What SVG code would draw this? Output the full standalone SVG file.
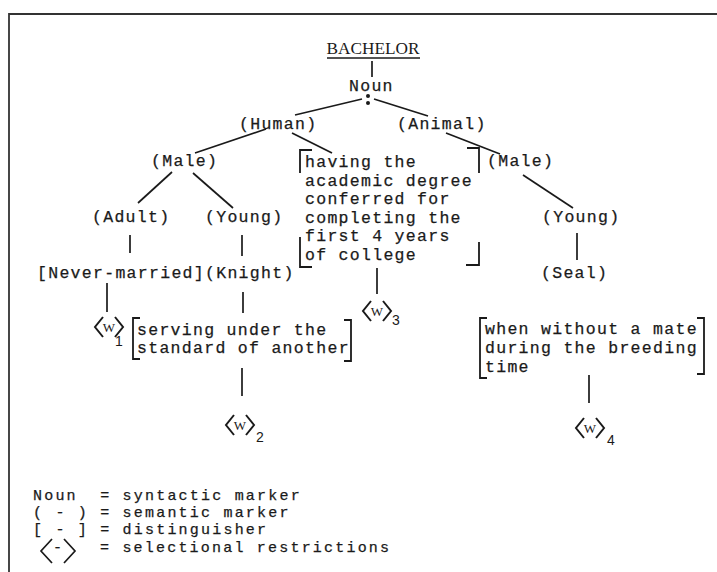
<svg xmlns="http://www.w3.org/2000/svg" width="717" height="572" viewBox="0 0 717 572">
  <defs>
    <style>
      .t { font-family: "Liberation Mono", "DejaVu Sans Mono", monospace; font-size: 16.5px; letter-spacing: 1.3px; fill: #1a1a1a; stroke: #1a1a1a; stroke-width: 0.25; white-space: pre; }
      .k { font-size: 15px; letter-spacing: 2.2px; }
      .w { font-family: "Liberation Serif", serif; font-size: 13px; fill: #1a1a1a; text-anchor: middle; }
      .sub { font-family: "Liberation Sans", sans-serif; font-size: 14px; fill: #1a1a1a; }
      .hd { font-family: "Liberation Serif", serif; font-size: 17px; fill: #1a1a1a; text-anchor: middle; }
      .ln { stroke: #1a1a1a; stroke-width: 1.7; fill: none; }
      .br { stroke: #1a1a1a; stroke-width: 1.8; fill: none; }
      .frame { stroke: #333; stroke-width: 1.8; fill: none; }
    </style>
    <!-- angle-bracket pair for selectional restrictions -->
    <path id="chev" d="M-6,-10 L-14,0 L-6,10 M6,-10 L14,0 L6,10" stroke="#1a1a1a" stroke-width="2" fill="none"/>
  </defs>

  <rect width="717" height="572" fill="#ffffff"/>

  <!-- frame -->
  <path class="frame" d="M9,572 L9,14 L717,14"/>

  <!-- connectors -->
  <g id="connectors">
    <line class="ln" x1="372" y1="61" x2="372" y2="77"/>
    <line class="ln" x1="362" y1="99" x2="295" y2="115"/>
    <line class="ln" x1="374" y1="99" x2="428" y2="116"/>
    <line class="ln" x1="266" y1="129" x2="195" y2="153"/>
    <line class="ln" x1="292" y1="133" x2="332" y2="153"/>
    <line class="ln" x1="446" y1="133" x2="500" y2="154"/>
    <line class="ln" x1="172" y1="172" x2="138" y2="203"/>
    <line class="ln" x1="193" y1="173" x2="233" y2="208"/>
    <line class="ln" x1="523" y1="175" x2="573" y2="208"/>
    <line class="ln" x1="130" y1="235" x2="130" y2="253"/>
    <line class="ln" x1="242" y1="235" x2="242" y2="256"/>
    <line class="ln" x1="577" y1="233" x2="577" y2="260"/>
    <line class="ln" x1="107" y1="283" x2="107" y2="312"/>
    <line class="ln" x1="243" y1="292" x2="243" y2="313"/>
    <line class="ln" x1="377" y1="268" x2="377" y2="294"/>
    <line class="ln" x1="242" y1="368" x2="242" y2="396"/>
    <line class="ln" x1="589" y1="375" x2="589" y2="403"/>
  </g>

  <!-- lexical item -->
  <g id="bachelor">
    <text class="hd" x="373" y="54" textLength="93" lengthAdjust="spacingAndGlyphs">BACHELOR</text>
    <line class="ln" x1="327" y1="58" x2="420" y2="58"/>
  </g>

  <g id="noun">
    <text class="t" x="349" y="91">Noun</text>
    <circle cx="368" cy="96" r="2" fill="#1a1a1a"/>
    <circle cx="368" cy="103" r="2" fill="#1a1a1a"/>
  </g>

  <g id="human"><text class="t" x="239" y="129">(Human)</text></g>
  <g id="animal"><text class="t" x="397" y="129">(Animal)</text></g>
  <g id="male-human"><text class="t" x="151" y="166">(Male)</text></g>
  <g id="male-animal"><text class="t" x="487" y="166">(Male)</text></g>

  <g id="academic">
    <path class="br" d="M312,150 L300,150 L300,173 M300,237 L300,267 L312,267"/>
    <path class="br" d="M467,148 L479,148 L479,173 M479,242 L479,265 L466,265"/>
    <text class="t" x="305" y="167">having the</text>
    <text class="t" x="305" y="185.5">academic degree</text>
    <text class="t" x="305" y="204">conferred for</text>
    <text class="t" x="305" y="222.5">completing the</text>
    <text class="t" x="305" y="241">first 4 years</text>
    <text class="t" x="305" y="259.5">of college</text>
  </g>

  <g id="adult"><text class="t" x="92" y="222">(Adult)</text></g>
  <g id="young-human"><text class="t" x="205" y="222">(Young)</text></g>
  <g id="young-animal"><text class="t" x="542" y="222">(Young)</text></g>

  <g id="never-married"><text class="t" x="37" y="278">[Never-married]</text></g>
  <g id="knight"><text class="t" x="205" y="278">(Knight)</text></g>
  <g id="seal"><text class="t" x="541" y="278">(Seal)</text></g>

  <g id="w1">
    <use href="#chev" x="109" y="327"/>
    <text class="w" x="109" y="332">W</text>
    <text class="sub" x="115" y="346">1</text>
  </g>

  <g id="serving">
    <path class="br" d="M140,318 L133,318 L133,359 L140,359"/>
    <path class="br" d="M344,320 L351,320 L351,361 L344,361"/>
    <text class="t" x="137" y="335">serving under the</text>
    <text class="t" x="137" y="353">standard of another</text>
  </g>

  <g id="w3">
    <use href="#chev" x="377" y="311"/>
    <text class="w" x="377" y="316">W</text>
    <text class="sub" x="392" y="325">3</text>
  </g>

  <g id="w2">
    <use href="#chev" x="240" y="425"/>
    <text class="w" x="240" y="430">W</text>
    <text class="sub" x="256" y="442">2</text>
  </g>

  <g id="mate">
    <path class="br" d="M487,318 L480,318 L480,378 L487,378"/>
    <path class="br" d="M697,318 L704,318 L704,374 L697,374"/>
    <text class="t" x="485" y="334">when without a mate</text>
    <text class="t" x="485" y="353">during the breeding</text>
    <text class="t" x="485" y="372">time</text>
  </g>

  <g id="w4">
    <use href="#chev" x="590" y="428"/>
    <text class="w" x="590" y="433">W</text>
    <text class="sub" x="607" y="445">4</text>
  </g>

  <!-- key -->
  <g id="legend">
    <text class="t k" x="33" y="500">Noun  = syntactic marker</text>
    <text class="t k" x="33" y="517">( - ) = semantic marker</text>
    <text class="t k" x="33" y="534">[ - ] = distinguisher</text>
    <path class="ln" d="M52,539 L41,551 L52,563 M64,539 L75,551 L64,563"/>
    <text class="t k" x="53" y="552">-</text>
    <text class="t k" x="100" y="552">= selectional restrictions</text>
  </g>
</svg>
